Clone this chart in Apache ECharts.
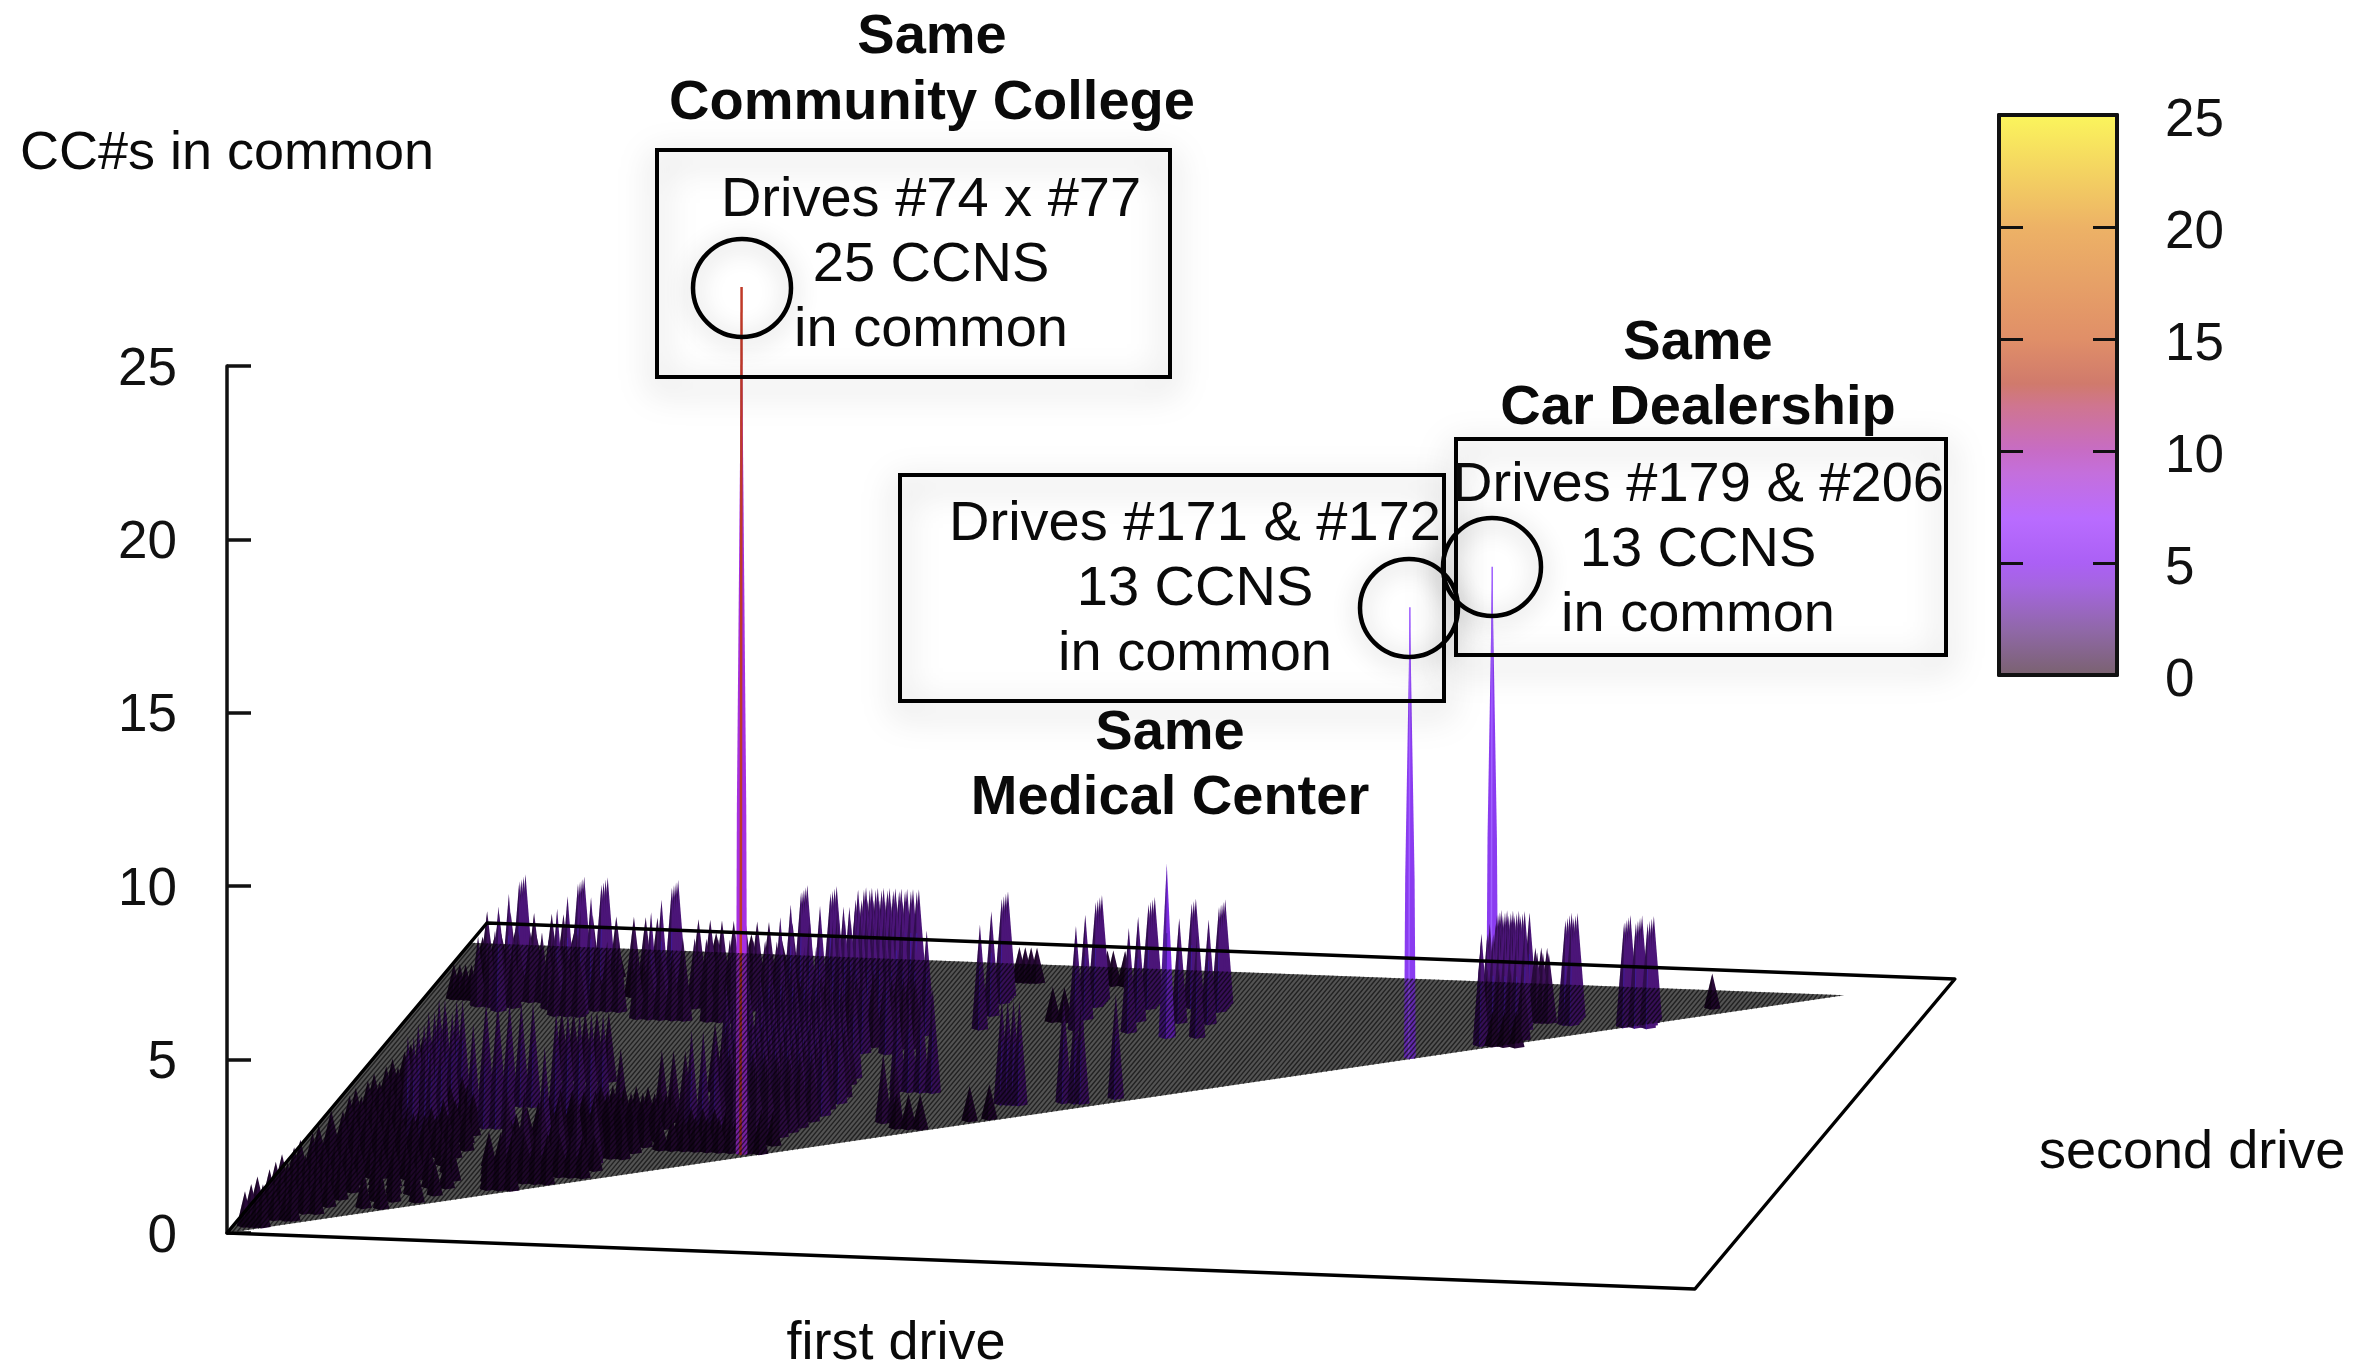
<!DOCTYPE html>
<html>
<head>
<meta charset="utf-8">
<title>CC#s in common</title>
<style>
  html, body { margin: 0; padding: 0; background: #fff; }
  #chart { width: 2373px; height: 1362px; }
</style>
<script src="https://cdn.jsdelivr.net/npm/echarts@6/dist/echarts.min.js"></script>
</head>
<body>
<div id="chart"></div>
<script>
var driveMax = 250;
var lastDrive = 234;

// the three labelled pairs: first drive, second drive, CC#s in common
var peakFirst = [74, 171, 179];
var peakSecond = [77, 172, 206];
var peakCount = [25, 13, 13];

// each row: second drive, CC#s in common, then the first drives
var backRidges = [
  [209, 3, 96, 112, 121, 128, 133, 179, 180, 181, 182, 183, 184, 192, 193, 202, 204, 206],
  [208, 3, 14, 24, 28, 40, 62, 67, 72, 73, 74, 75, 76, 77, 78, 79, 80, 81, 185],
  [207, 3, 96, 112, 121, 128, 133, 180, 181, 182, 183, 184, 192, 193, 202, 204, 206],
  [206, 3, 14, 24, 28, 40, 62, 67, 71, 72, 73, 74, 75, 76, 77, 78, 79, 80, 81],
  [205, 3, 96, 112, 121, 128, 133, 180, 181, 182, 183, 184, 192, 193, 202, 204, 206],
  [204, 3, 14, 24, 28, 40, 62, 67],
  [203, 3, 96, 112, 121, 133, 192, 193, 202, 204, 206],
  [202, 3, 14, 24, 28, 40, 62, 67, 181, 183],
  [198, 3, 72, 73, 74, 75, 76, 77, 78, 79, 80, 180, 181, 182, 183, 184, 185, 186],
  [193, 3, 96, 112, 121, 128, 133],
  [192, 3, 14, 24, 28, 40, 62, 67, 70, 71, 72, 73, 74, 75, 76, 77, 78, 79, 80, 81],
  [190, 3, 180, 181, 182, 183, 184, 185, 186],
  [184, 3, 112, 121, 181],
  [182, 3, 14, 24, 28, 40, 62, 67, 71, 72, 73, 74, 75, 76, 77, 78, 79, 80, 81, 96, 128, 133],
  [181, 5, 128],
  [208, 2, 186, 187, 188],
  [204, 2, 187, 188, 189]
];
var lowBack = [
  [222, 1, 7, 10, 13, 20, 44, 50, 55],
  [220, 1, 96, 97, 98, 99, 111, 112, 114, 214],
  [212, 1, 6, 8, 9, 11, 13, 15, 18, 20, 22, 25, 29, 34, 38, 43, 45, 47, 49, 51, 53, 55, 57],
  [205, 2, 8, 10, 12, 14, 16, 19, 21, 26, 30, 33, 35, 37, 44, 46, 48, 50, 52, 54, 56, 60],
  [197, 1, 9, 11, 13, 15, 17, 19, 22, 24, 26, 28, 30, 34, 36, 38, 45, 47, 49, 51, 53, 55, 57, 59, 62, 64, 66],
  [190, 1, 5, 6, 7, 8, 9, 107, 109],
  [190, 2, 12, 14, 16, 18, 20, 22, 24, 26, 44, 46, 48, 50, 52, 54, 56, 58, 60, 181, 183, 185, 187],
  [185, 2, 10, 12, 14, 16, 22, 24, 26, 30, 32, 34],
  [180, 2, 24, 26, 28, 38, 40, 42, 44, 46, 50, 52, 54, 56],
  [184, 1, 183, 185, 187]
];
var midBlob = [
  [176, 3, 76, 78, 80, 82, 84, 86, 88],
  [170, 2, 62, 64, 66, 68, 70, 72, 74, 76, 78, 80, 82, 84, 86],
  [165, 2, 63, 66, 69, 72, 75, 78, 81, 84, 86, 88],
  [160, 3, 64, 66, 68, 70, 72, 76, 80, 84],
  [150, 2, 64, 66, 68, 70, 72, 74, 76, 78, 80],
  [140, 3, 64, 66, 68, 70, 72, 74, 76, 78, 80, 82],
  [135, 2, 64, 67, 70, 73, 76, 79, 82],
  [130, 3, 62, 64, 66, 68, 70, 72, 74, 76, 78, 80, 82],
  [125, 2, 61, 63, 65, 67, 69, 71, 73, 75, 77, 79, 81, 83],
  [120, 3, 65, 67, 69, 71, 73, 75, 77, 79, 81, 83],
  [115, 2, 64, 66, 68, 70, 72, 74, 76, 78, 80, 82],
  [110, 3, 66, 68, 70, 72, 74, 76, 78, 80, 82],
  [105, 2, 65, 67, 69, 71, 73, 75, 77, 79, 81],
  [100, 2, 66, 68, 70, 72, 74, 76, 78, 80],
  [96, 2, 67, 69, 71, 73, 75, 77, 79],
  [91, 3, 63, 65, 67],
  [92, 2, 70, 72, 74, 76, 78],
  [85, 1, 62, 64, 66, 68, 70, 72, 74, 76, 78],
  [78, 1, 60, 62, 64, 66, 68, 70, 72, 75, 77]
];
var leftColumns = [
  [130, 2, 34, 36, 38, 40, 42],
  [108, 3, 17, 18, 20, 21, 25, 27, 29, 31, 33],
  [102, 3, 38, 40, 42, 44, 46],
  [98, 3, 17, 18, 20, 21],
  [90, 3, 26, 28, 30, 32],
  [88, 3, 17, 18, 20, 21],
  [78, 3, 17, 18, 20, 21],
  [74, 3, 41],
  [102, 2, 49, 56, 58, 60]
];
var frontBands = [
  [100, 1, 46, 48, 50, 52, 54, 56, 58],
  [95, 1, 40, 42, 44, 46, 48, 50, 52, 54, 56, 58],
  [90, 1, 39, 41, 43, 45, 47, 49, 51, 53, 55, 57],
  [85, 1, 38, 40, 42, 44, 46, 48, 50, 52, 54, 56, 58],
  [80, 1, 37, 39, 41, 43, 45, 47, 49, 51, 53, 55, 57],
  [75, 1, 36, 38, 40, 42, 44, 46, 48, 50, 52, 54, 56],
  [70, 1, 36, 39, 41, 43, 45, 47, 49, 51, 53, 55],
  [66, 2, 36, 39, 42, 45, 48, 51],
  [60, 1, 34, 36, 38, 40, 42, 44, 46, 48, 50, 52],
  [54, 1, 35, 37, 39, 41, 43, 45, 47, 49, 51],
  [48, 1, 36, 38, 40, 42, 44, 46],
  [42, 1, 37, 39, 41]
];
var cornerBlob = [
  [132, 1, 10, 12],
  [126, 1, 9, 11, 13],
  [120, 1, 9, 11, 13, 15],
  [114, 1, 8, 10, 12, 14, 16, 18],
  [108, 1, 8, 10, 12, 14, 16, 18, 20],
  [102, 1, 7, 9, 11, 13, 15, 17, 19, 22],
  [96, 1, 7, 9, 11, 13, 15, 17, 19, 21, 24],
  [90, 1, 6, 8, 10, 12, 14, 16, 18, 20, 22, 24, 26],
  [84, 1, 6, 8, 10, 12, 14, 16, 18, 20, 22, 24, 26, 27],
  [78, 1, 7, 9, 11, 13, 15, 17, 19, 21, 23, 25, 27],
  [72, 1, 5, 7, 9, 11, 13, 15, 17, 19, 21, 23, 25, 28],
  [66, 1, 6, 8, 10, 12, 14, 16, 18, 20, 22, 24, 27],
  [60, 1, 5, 7, 9, 11, 13, 15, 17, 19, 21, 23, 26],
  [54, 1, 5, 6, 8, 10, 12, 14, 16, 18, 20, 22, 24, 28],
  [48, 1, 4, 6, 8, 10, 12, 14, 16, 18, 20, 22, 24, 26, 30],
  [42, 1, 4, 5, 7, 9, 11, 13, 15, 18, 21, 24, 27, 30],
  [36, 1, 3, 5, 7, 9, 11, 13, 15, 19, 22, 25, 29],
  [30, 1, 3, 5, 7, 9, 11, 13, 14, 20, 23, 27],
  [24, 1, 3, 5, 7, 9, 11, 13, 19, 22],
  [18, 1, 2, 4, 6, 8, 10, 12],
  [12, 1, 2, 4, 6, 8, 9],
  [6, 1, 2, 3, 4, 5]
];
var rightColumns = [
  [131, 3, 91, 93, 95, 97],
  [132, 3, 128],
  [127, 3, 120, 122, 123],
  [124, 3, 110, 111, 112, 113],
  [112, 1, 110],
  [110, 1, 107],
  [102, 1, 96, 98, 100],
  [106, 2, 93, 95]
];

// colour bar of the palette
var barValues = [0, 2, 4, 5, 7, 9, 10, 12, 13, 15, 20, 25];
var barColors = ['#7a6270', '#9068a8', '#a565e0', '#ab60f5', '#b96cff', '#c46fdc', '#c76cc5', '#cf7590', '#d07a6c', '#e08f68', '#edb266', '#fbf55c'];

// colours of the marks by count
var markColors = { 1: '#2a0a3a', 2: '#3c1058', 3: '#4b1578', 4: '#5a1a96', 5: '#7a2ae0', 13: '#8a3cf0', 25: '#a52fe0' };

var fontName = '"Liberation Sans", Arial, sans-serif';

var spikes = [];
backRidges.concat(lowBack, midBlob, leftColumns, frontBands, cornerBlob, rightColumns).forEach(function (row) {
  for (var i = 2; i < row.length; i++) {
    spikes.push([row[i], row[0], row[1]]);
  }
});
peakFirst.forEach(function (f, i) {
  spikes.push([f, peakSecond[i], peakCount[i]]);
});
// far ones first
spikes.sort(function (a, b) {
  return groundY(b[0], b[1]) - groundY(a[0], a[1]);
});

// oblique view: ground plane onto the z axis units
function groundX(f, s) {
  return f + s * 0.1771;
}
function groundY(f, s) {
  return (1.24 * s - 0.224 * f) / 34.68;
}

function point(api, f, s, c) {
  return api.coord([groundX(f, s), groundY(f, s) + c]);
}

function renderSpike(params, api) {
  var f = api.value(0);
  var s = api.value(1);
  var c = api.value(2);
  var top = point(api, f, s, c);
  var color = markColors[c];
  var children;
  if (c >= 13) {
    // the tall ones keep nearly the same width over the lower part
    var pts = [
      point(api, f - 1, s, 0), point(api, f, s - 1, 0), point(api, f + 1, s, 0),
      point(api, f + 0.8, s, c * 0.4), top, point(api, f - 0.8, s, c * 0.4)
    ];
    var low = point(api, f, s - 1, 0);
    children = [
      { type: 'polygon', shape: { points: pts }, style: { fill: color } },
      {
        type: 'line',
        shape: { x1: top[0], y1: top[1], x2: low[0], y2: low[1] },
        style: { stroke: c === 25 ? '#c03a28' : '#a060ff', lineWidth: c === 25 ? 2.5 : 1.5 }
      }
    ];
  } else {
    var left = point(api, f - 1.4, s, 0);
    var near = point(api, f, s - 1.4, 0);
    var right = point(api, f + 1.4, s, 0);
    children = [
      { type: 'polygon', shape: { points: [left, near, right, top] }, style: { fill: color } },
      { type: 'polygon', shape: { points: [left, near, top] }, style: { fill: 'rgba(0,0,0,0.35)' } }
    ];
    if (c >= 3) {
      var mid = point(api, f, s, c * 0.6);
      children.push({
        type: 'line',
        shape: { x1: mid[0], y1: mid[1], x2: near[0], y2: near[1] },
        style: { stroke: '#3f1a9a', lineWidth: 1 }
      });
    }
  }
  return { type: 'group', children: children };
}

function renderGround(params, api) {
  return {
    type: 'polygon',
    shape: { points: [point(api, 0, 0, 0), point(api, lastDrive, lastDrive, 0), point(api, 0, lastDrive, 0)] },
    style: { fill: '#747474' }
  };
}

function renderMesh(params, api) {
  var children = [{
    type: 'polygon',
    shape: { points: [point(api, 0, 0, 0), point(api, lastDrive, lastDrive, 0), point(api, 0, lastDrive, 0)] },
    style: { fill: 'rgba(0,0,0,0.28)' }
  }];
  for (var f = 0; f < lastDrive; f += 0.75) {
    var a = point(api, f, f, 0);
    var b = point(api, f, lastDrive, 0);
    children.push({
      type: 'line',
      shape: { x1: a[0], y1: a[1], x2: b[0], y2: b[1] },
      style: { stroke: 'rgba(0,0,0,0.6)', lineWidth: 1.4 }
    });
  }
  return { type: 'group', silent: true, children: children };
}

function renderFrame(params, api) {
  var pts = [point(api, 0, 0, 0), point(api, driveMax, 0, 0), point(api, driveMax, driveMax, 0), point(api, 0, driveMax, 0)];
  return {
    type: 'polygon',
    shape: { points: pts },
    style: { fill: 'none', stroke: '#000', lineWidth: 3.5, lineJoin: 'round' }
  };
}

function renderBar(params, api) {
  var low = api.coord([0, barValues[0]]);
  var high = api.coord([1, barValues[barValues.length - 1]]);
  var stops = barValues.map(function (v, i) {
    return { offset: v / barValues[barValues.length - 1], color: barColors[i] };
  });
  return {
    type: 'rect',
    shape: { x: low[0], y: high[1], width: high[0] - low[0], height: low[1] - high[1] },
    style: { fill: new echarts.graphic.LinearGradient(0, 1, 0, 0, stops) }
  };
}

function textEl(str, x, y, bold, size, align) {
  return {
    type: 'text',
    x: x,
    y: y + 3,
    z: 100,
    style: {
      text: str,
      fill: '#0a0a0a',
      align: align || 'center',
      verticalAlign: 'middle',
      font: (bold ? 'bold ' : '') + (size || 56) + 'px ' + fontName
    }
  };
}

function boxEl(x, y, w, h) {
  return {
    type: 'rect',
    z: 99,
    shape: { x: x, y: y, width: w, height: h },
    style: { fill: 'none', stroke: '#000', lineWidth: 4, shadowBlur: 34, shadowColor: 'rgba(0,0,0,0.4)', shadowOffsetY: 10 }
  };
}

function ringEl(x, y) {
  return {
    type: 'circle',
    z: 99,
    shape: { cx: x, cy: y, r: 49 },
    style: { fill: 'none', stroke: '#000', lineWidth: 4.5, shadowBlur: 24, shadowColor: 'rgba(0,0,0,0.3)', shadowOffsetY: 4 }
  };
}

// tick labels sit a little under their ticks in the picture
function tickLabel(drop, margin) {
  return {
    margin: margin,
    formatter: '{n|{value}}',
    rich: { n: { color: '#111', fontSize: 53, fontFamily: fontName, padding: [drop, 0, 0, 0] } }
  };
}

var barAxisLine = { show: true, onZero: false, lineStyle: { color: '#111', width: 4 } };
var barTick = { show: true, inside: true, length: 24, lineStyle: { color: '#111', width: 3 } };

var chart = echarts.init(document.getElementById('chart'));
chart.setOption({
  animation: false,
  backgroundColor: '#fff',
  grid: [
    { left: 227, top: 366, width: 1728, height: 867 },
    { left: 1999, top: 115, width: 118, height: 560, show: false }
  ],
  xAxis: [
    { type: 'value', min: 0, max: 294.3, show: false, gridIndex: 0 },
    { type: 'value', min: 0, max: 1, gridIndex: 1, position: 'top', z: 10, axisLabel: { show: false }, axisTick: { show: false }, splitLine: { show: false }, axisLine: barAxisLine },
    { type: 'value', min: 0, max: 1, gridIndex: 1, position: 'bottom', z: 10, axisLabel: { show: false }, axisTick: { show: false }, splitLine: { show: false }, axisLine: barAxisLine }
  ],
  yAxis: [
    {
      type: 'value', min: 0, max: 25, interval: 5, gridIndex: 0,
      axisLine: { show: true, onZero: false, lineStyle: { color: '#111', width: 3.5 } },
      axisTick: { show: true, inside: true, length: 24, lineStyle: { color: '#111', width: 3.5 } },
      splitLine: { show: false },
      axisLabel: tickLabel(8, 50)
    },
    {
      type: 'value', min: 0, max: 25, interval: 5, gridIndex: 1, position: 'right', z: 10,
      axisLine: barAxisLine,
      axisTick: barTick,
      splitLine: { show: false },
      axisLabel: tickLabel(12, 48)
    },
    {
      type: 'value', min: 0, max: 25, interval: 5, gridIndex: 1, position: 'left', z: 10,
      axisLine: barAxisLine,
      axisTick: barTick,
      splitLine: { show: false },
      axisLabel: { show: false }
    }
  ],
  series: [
    { type: 'custom', xAxisIndex: 0, yAxisIndex: 0, z: 1, clip: false, silent: true, renderItem: renderGround, data: [[0, 0]] },
    { type: 'custom', xAxisIndex: 0, yAxisIndex: 0, z: 2, clip: false, silent: true, renderItem: renderSpike, data: spikes, encode: { x: 0, y: 2 } },
    { type: 'custom', xAxisIndex: 0, yAxisIndex: 0, z: 3, clip: false, silent: true, renderItem: renderMesh, data: [[0, 0]] },
    { type: 'custom', xAxisIndex: 0, yAxisIndex: 0, z: 4, clip: false, silent: true, renderItem: renderFrame, data: [[0, 0]] },
    { type: 'custom', xAxisIndex: 1, yAxisIndex: 1, z: 1, clip: false, silent: true, renderItem: renderBar, data: [[0, 0]] }
  ],
  graphic: [
    textEl('CC#s in common', 20, 151, false, 54, 'left'),
    textEl('Same', 932, 35, true),
    textEl('Community College', 932, 101, true),
    boxEl(657, 150, 513, 227),
    textEl('Drives #74 x #77', 931, 198),
    textEl('25 CCNS', 931, 263),
    textEl('in common', 931, 328),
    ringEl(742, 288),
    boxEl(900, 475, 544, 226),
    textEl('Drives #171 & #172', 1195, 522),
    textEl('13 CCNS', 1195, 587),
    textEl('in common', 1195, 652),
    ringEl(1409, 608),
    textEl('Same', 1170, 731, true),
    textEl('Medical Center', 1170, 796, true),
    textEl('Same', 1698, 341, true),
    textEl('Car Dealership', 1698, 406, true),
    boxEl(1456, 439, 490, 216),
    textEl('Drives #179 & #206', 1698, 483),
    textEl('13 CCNS', 1698, 548),
    textEl('in common', 1698, 613),
    ringEl(1492, 567),
    textEl('first drive', 896, 1341, false, 54),
    textEl('second drive', 2039, 1150, false, 54, 'left')
  ]
});
</script>
</body>
</html>
